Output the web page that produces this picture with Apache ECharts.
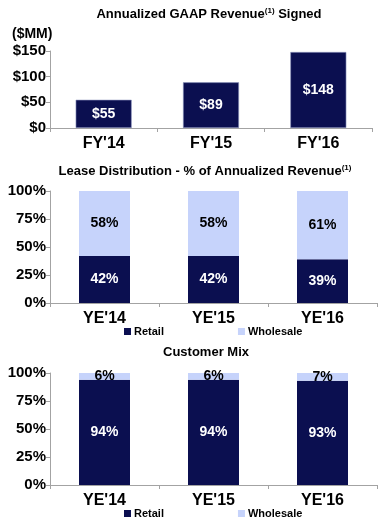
<!DOCTYPE html>
<html><head><meta charset="utf-8">
<script src="https://cdn.jsdelivr.net/npm/echarts@6/dist/echarts.min.js"></script>
<style>html,body{margin:0;padding:0;background:#fff}#c{width:383px;height:518px}</style>
</head><body><div id="c"></div>
<script>
const revCategories = ["FY'14", "FY'15", "FY'16"];
const revValues = [55, 89, 148];
const revTicks = [0, 50, 100, 150];
const leaseCategories = ["YE'14", "YE'15", "YE'16"];
const leaseRetail = [42, 42, 39];
const leaseWholesale = [58, 58, 61];
const mixCategories = ["YE'14", "YE'15", "YE'16"];
const mixRetail = [94, 94, 93];
const mixWholesale = [6, 6, 7];
const pctTicks = [0, 25, 50, 75, 100];

const NAVY = '#0b0f50';
const LIGHT = '#c6d3fb';
const FONT = 'Liberation Sans, Arial, sans-serif';
const AXC = '#a3a3a3';

function yAx(gi, max, interval, fmt, size) {
  return {
    gridIndex: gi, type: 'value', min: 0, max: max, interval: interval,
    axisLine: {show: true, lineStyle: {color: AXC, width: 1}},
    axisTick: {show: true, length: 4, lineStyle: {color: AXC}},
    splitLine: {show: false},
    axisLabel: {formatter: fmt, color: '#000', fontFamily: FONT, fontWeight: 'bold', fontSize: size, margin: 4}
  };
}
function xAx(gi, cats) {
  return {
    gridIndex: gi, type: 'category', data: cats,
    axisLine: {show: true, lineStyle: {color: AXC, width: 1}},
    axisTick: {show: true, length: 4, lineStyle: {color: AXC}},
    axisLabel: {color: '#000', fontFamily: FONT, fontWeight: 'bold', fontSize: 16, margin: 8}
  };
}
const lblW = {show: true, position: 'inside', color: '#fff', fontFamily: FONT, fontWeight: 'bold', fontSize: 14};
const lblB = {show: true, position: 'inside', color: '#000', fontFamily: FONT, fontWeight: 'bold', fontSize: 14};

const chart = echarts.init(document.getElementById('c'), null, {renderer: 'canvas'});
chart.setOption({
  animation: false,
  backgroundColor: '#fff',
  title: [
    {text: 'Annualized GAAP Revenue{s|(1)} Signed', left: 204, top: 2, textAlign: 'center',
     textStyle: {fontFamily: FONT, fontWeight: 'bold', fontSize: 13, color: '#000',
       rich: {s: {fontFamily: FONT, fontWeight: 'bold', fontSize: 8, color: '#000', padding: [0, 0, 6, 0]}}}},
    {text: '($MM)', left: 7, top: 22, textStyle: {fontFamily: FONT, fontWeight: 'bold', fontSize: 14, color: '#000'}},
    {text: 'Lease Distribution - % of Annualized Revenue{s|(1)}', left: 200, top: 159, textAlign: 'center',
     textStyle: {fontFamily: FONT, fontWeight: 'bold', fontSize: 13, color: '#000',
       rich: {s: {fontFamily: FONT, fontWeight: 'bold', fontSize: 8, color: '#000', padding: [0, 0, 6, 0]}}}},
    {text: 'Customer Mix', left: 201, top: 341, textAlign: 'center',
     textStyle: {fontFamily: FONT, fontWeight: 'bold', fontSize: 13, color: '#000'}}
  ],
  legend: [
    {data: ['Retail', 'Wholesale'], left: 119, top: 321, itemWidth: 7, itemHeight: 7, icon: 'rect', itemGap: 74,
     selectedMode: false, textStyle: {fontFamily: FONT, fontWeight: 'bold', fontSize: 11, color: '#000', padding: [0, 0, 0, -2]}},
    {data: ['Retail', 'Wholesale'], left: 119, top: 503, itemWidth: 7, itemHeight: 7, icon: 'rect', itemGap: 74,
     selectedMode: false, textStyle: {fontFamily: FONT, fontWeight: 'bold', fontSize: 11, color: '#000', padding: [0, 0, 0, -2]}}
  ],
  grid: [
    {left: 50, top: 51, width: 322, height: 77},
    {left: 50, top: 191, width: 327, height: 112},
    {left: 50, top: 373, width: 327, height: 112}
  ],
  xAxis: [xAx(0, revCategories), xAx(1, leaseCategories), xAx(2, mixCategories)],
  yAxis: [
    yAx(0, revTicks[revTicks.length - 1], revTicks[1] - revTicks[0], v => '$' + v, 15),
    yAx(1, pctTicks[pctTicks.length - 1], pctTicks[1] - pctTicks[0], v => v + '%', 15),
    yAx(2, pctTicks[pctTicks.length - 1], pctTicks[1] - pctTicks[0], v => v + '%', 15)
  ],
  series: [
    {name: 'Revenue', type: 'bar', xAxisIndex: 0, yAxisIndex: 0, data: revValues, barWidth: 56,
     itemStyle: {color: NAVY, borderColor: '#8f97c0', borderWidth: 0.6},
     label: Object.assign({}, lblW, {formatter: p => '$' + p.value})},
    {name: 'Retail', type: 'bar', stack: 'l', xAxisIndex: 1, yAxisIndex: 1, data: leaseRetail, barWidth: 51,
     itemStyle: {color: NAVY}, label: Object.assign({}, lblW, {formatter: p => p.value + '%'})},
    {name: 'Wholesale', type: 'bar', stack: 'l', xAxisIndex: 1, yAxisIndex: 1, data: leaseWholesale, barWidth: 51,
     itemStyle: {color: LIGHT}, label: Object.assign({}, lblB, {formatter: p => p.value + '%'})},
    {name: 'Retail', type: 'bar', stack: 'm', xAxisIndex: 2, yAxisIndex: 2, data: mixRetail, barWidth: 51,
     itemStyle: {color: NAVY}, label: Object.assign({}, lblW, {formatter: p => p.value + '%'})},
    {name: 'Wholesale', type: 'bar', stack: 'm', xAxisIndex: 2, yAxisIndex: 2, data: mixWholesale, barWidth: 51,
     itemStyle: {color: LIGHT}, label: Object.assign({}, lblB, {formatter: p => p.value + '%'})}
  ]
});
</script></body></html>
